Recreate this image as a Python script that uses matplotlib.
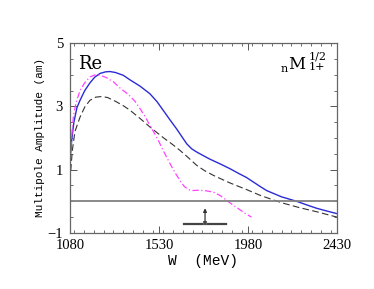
import matplotlib
matplotlib.use("Agg")
import matplotlib.pyplot as plt
from matplotlib.ticker import MultipleLocator, FixedLocator

# Solid blue curve
w_solid = [1080, 1090, 1100, 1115, 1131, 1155, 1181, 1205, 1232, 1260, 1282, 1310, 1350,
           1383, 1434, 1484, 1520, 1552, 1585, 1619, 1645, 1670, 1695, 1720, 1755, 1788,
           1840, 1889, 1930, 1973, 2041, 2074, 2150, 2226, 2280, 2327, 2380, 2430]
v_solid = [1.25, 2.0, 2.5, 2.95, 3.19, 3.5, 3.74, 3.92, 4.04, 4.09, 4.1, 4.07, 3.98,
           3.84, 3.64, 3.4, 3.15, 2.87, 2.58, 2.29, 2.05, 1.82, 1.66, 1.56, 1.44, 1.33,
           1.18, 1.03, 0.89, 0.75, 0.47, 0.34, 0.14, 0.0, -0.12, -0.22, -0.31, -0.39]

# Dashed black curve
w_dash = [1080, 1092, 1105, 1131, 1155, 1181, 1210, 1240, 1270, 1310, 1350, 1383, 1434,
          1484, 1552, 1600, 1636, 1680, 1720, 1760, 1805, 1850, 1889, 1973, 2041, 2100,
          2158, 2240, 2327, 2430]
v_dash = [0.65, 1.6, 2.2, 2.66, 2.98, 3.19, 3.29, 3.31, 3.28, 3.16, 3.02, 2.88, 2.62,
          2.35, 2.01, 1.79, 1.61, 1.37, 1.14, 0.97, 0.82, 0.69, 0.58, 0.37, 0.19, 0.06,
          -0.06, -0.2, -0.33, -0.5]

# Magenta dash-dot curve
w_dd = [1080, 1088, 1097, 1110, 1131, 1155, 1181, 1205, 1232, 1260, 1299, 1333, 1366,
        1383, 1410, 1434, 1460, 1484, 1510, 1535, 1560, 1586, 1610, 1636, 1658, 1678,
        1700, 1737, 1770, 1805, 1840, 1872, 1900, 1931, 1965, 1998]
v_dd = [1.3, 2.0, 2.66, 3.1, 3.5, 3.75, 3.93, 3.99, 3.98, 3.92, 3.78, 3.58, 3.42,
        3.33, 3.15, 2.93, 2.68, 2.4, 2.12, 1.82, 1.5, 1.19, 0.92, 0.66, 0.47, 0.37,
        0.34, 0.35, 0.33, 0.29, 0.18, 0.03, -0.1, -0.23, -0.38, -0.5]

# Marker: resonance position and width bar
res_w = 1763
res_bar = [1656, 1869]
res_y = -0.73
res_top = -0.22

xticks = [1080, 1530, 1980, 2430]
yticks = [-1, 1, 3, 5]

fig = plt.figure(figsize=(3.74, 2.89), dpi=100)
ax = fig.add_axes([0.187, 0.194, 0.714, 0.657])

ax.plot(w_solid, v_solid, color="#2b2bd6", lw=1.0)
ax.plot(w_dash, v_dash, color="#333333", lw=0.8, dashes=(6, 3))
ax.plot(w_dd, v_dd, color="#ff44ff", lw=0.9, dashes=(5, 2, 1, 2))
ax.axhline(0, color="#808080", lw=1.3)

ax.plot(res_bar, [res_y, res_y], color="#444444", lw=1.6)
ax.annotate("", xy=(res_w, res_top), xytext=(res_w, res_y),
            arrowprops=dict(arrowstyle="-|>", color="#333333", lw=0.9,
                            mutation_scale=5, shrinkA=0, shrinkB=0))
ax.plot([res_w], [res_y + 0.05], marker="s", ms=3, color="#666666", mew=0)

ax.set_xlim(1080, 2430)
ax.set_ylim(-1, 5)
ax.xaxis.set_major_locator(FixedLocator(xticks))
ax.yaxis.set_major_locator(FixedLocator(yticks))
ax.xaxis.set_minor_locator(MultipleLocator(50))
ax.yaxis.set_minor_locator(MultipleLocator(0.5))
ax.tick_params(which="both", direction="in", top=True, right=True, color="#555555")
ax.tick_params(which="major", length=5, width=0.7)
ax.tick_params(which="minor", length=2.5, width=0.6)
for s in ax.spines.values():
    s.set_color("#666666")
    s.set_linewidth(0.9)

for lab in ax.get_xticklabels() + ax.get_yticklabels():
    lab.set_fontfamily("Liberation Serif")
    lab.set_fontsize(10.5)
ax.tick_params(axis="x", pad=4.5)
ax.tick_params(axis="y", pad=5)

ax.set_xlabel("W  (MeV)", family="Liberation Mono", fontsize=10.5, labelpad=1)
ax.set_ylabel("Multipole Amplitude (am)", family="Liberation Mono", fontsize=8, labelpad=2)

ax.text(0.031, 0.862, "Re", transform=ax.transAxes, family="DejaVu Serif",
        fontsize=13, va="baseline", ha="left")
ax.text(0.788, 0.845, "n", transform=ax.transAxes, family="DejaVu Serif",
        fontsize=8, va="baseline", ha="left")
ax.text(0.818, 0.865, "M", transform=ax.transAxes, family="DejaVu Serif",
        fontsize=12, va="baseline", ha="left")
ax.text(0.893, 0.914, "1/2", transform=ax.transAxes, family="DejaVu Serif",
        fontsize=8, va="baseline", ha="left")
ax.text(0.893, 0.858, "1+", transform=ax.transAxes, family="DejaVu Serif",
        fontsize=8, va="baseline", ha="left")

fig.savefig("out.png", dpi=100)
